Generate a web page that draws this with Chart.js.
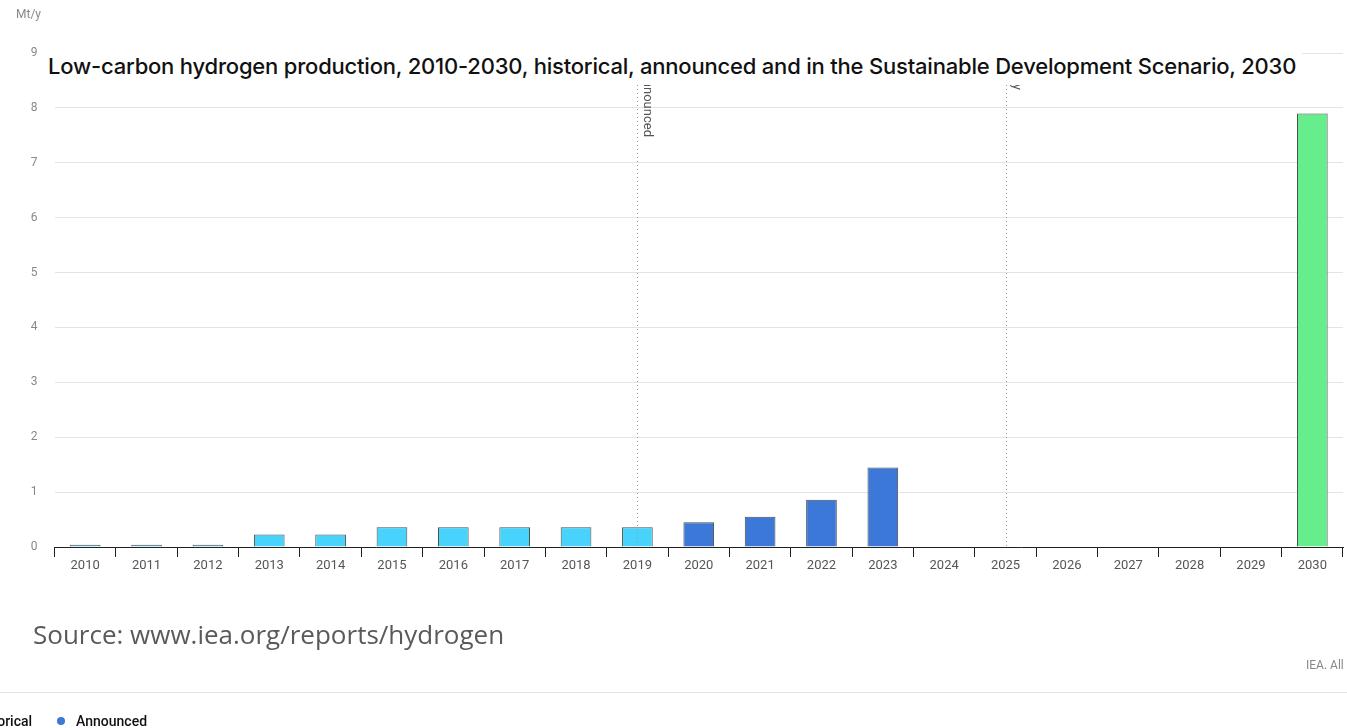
<!DOCTYPE html>
<html>
<head>
<meta charset="utf-8">
<script src="https://cdn.jsdelivr.net/npm/chart.js@4.4.1/dist/chart.umd.min.js"></script>
<style>
  html, body { margin: 0; padding: 0; background: #fff; overflow: hidden; }
  #wrap { position: relative; width: 1347px; height: 728px; }
  canvas { position: absolute; left: 0; top: 0; }
  .abs { position: absolute; white-space: nowrap; }
  #unit { left: 16px; top: 7px; font: 12px Roboto, "Liberation Sans", sans-serif; color: #888; }
  #title { left: 40px; top: 45px; width: 1262px; height: 40px; background: #fff; padding-left: 8px; box-sizing: border-box;
           font: 500 22px Inter, "Open Sans", sans-serif; color: #111; line-height: 42px; letter-spacing: -0.2px; }
  #source { left: 33px; top: 616px; font: 26px "Open Sans", sans-serif; color: #5a5a5a; }
  #iea { left: 1306px; top: 658px; font: 12px Roboto, sans-serif; color: #888; }
  #rule { left: 0; top: 692px; width: 1347px; height: 1px; background: #e4e4e4; }
  #legend { left: -47px; top: 713px; font: 500 14px Roboto, sans-serif; color: #111; }
  #legend span.dot { display: inline-block; width: 8px; height: 8px; border-radius: 50%; margin-right: 11px; vertical-align: 1px; }
  #legend span.item { margin-right: 25px; }
</style>
</head>
<body>
<div id="wrap">
  <canvas id="c" width="1347" height="728"></canvas>
  <div class="abs" id="unit">Mt/y</div>
  <div class="abs" id="title">Low-carbon hydrogen production, 2010-2030, historical, announced and in the Sustainable Development Scenario, 2030</div>
  <div class="abs" id="source">Source: www.iea.org/reports/hydrogen</div>
  <div class="abs" id="iea">IEA. All rights reserved.</div>
  <div class="abs" id="rule"></div>
  <div class="abs" id="legend"></div>
</div>
<script>
const years = ['2010','2011','2012','2013','2014','2015','2016','2017','2018','2019','2020','2021','2022','2023','2024','2025','2026','2027','2028','2029','2030'];
const historical = [0.04,0.04,0.04,0.23,0.23,0.36,0.36,0.36,0.36,0.36,null,null,null,null,null,null,null,null,null,null,null];
const announced  = [null,null,null,null,null,null,null,null,null,null,0.45,0.55,0.86,1.45,null,null,null,null,null,null,null];
const sds        = [null,null,null,null,null,null,null,null,null,null,null,null,null,null,null,null,null,null,null,null,7.9];
const seriesNames = ['Historical','Announced','Sustainable Development Scenario'];
const seriesColors = ['#47d3fc','#3c78d8','#66ee8c'];
const yTicks = [0,1,2,3,4,5,6,7,8,9];
const markers = [{year:'2019', label:'Announced', end: 137}, {year:'2025', label:'Policy', end: 90}];

// legend (HTML, shifted like the reference)
const leg = document.getElementById('legend');
seriesNames.slice(0,2).forEach((n,i)=>{
  const s = document.createElement('span'); s.className='item';
  s.innerHTML = '<span class="dot" style="background:'+seriesColors[i]+'"></span>'+n;
  leg.appendChild(s);
});

const markerPlugin = {
  id: 'markers',
  afterDatasetsDraw(chart) {
    const ctx = chart.ctx, xs = chart.scales.x, area = chart.chartArea;
    ctx.save();
    markers.forEach(m => {
      const x = Math.round(xs.getPixelForValue(years.indexOf(m.year))) + 0.5;
      ctx.strokeStyle = '#9a9a9a'; ctx.lineWidth = 1; ctx.setLineDash([1,3]);
      ctx.beginPath(); ctx.moveTo(x, area.top + 20); ctx.lineTo(x, area.bottom); ctx.stroke();
      ctx.setLineDash([]);
      ctx.save();
      ctx.translate(x + 3, m.end);
      ctx.rotate(Math.PI/2);
      ctx.fillStyle = '#555'; ctx.font = '13px Roboto, sans-serif';
      ctx.textAlign = 'right'; ctx.textBaseline = 'bottom';
      ctx.fillText(m.label, 0, 0);
      ctx.restore();
    });
    ctx.restore();
  }
};

new Chart(document.getElementById('c'), {
  type: 'bar',
  data: {
    labels: years,
    datasets: [historical, announced, sds].map((d,i)=>({
      label: seriesNames[i], data: d,
      backgroundColor: seriesColors[i], borderColor: '#4d4d4d', borderWidth: 1,
      barPercentage: 0.5, categoryPercentage: 1.0
    }))
  },
  options: {
    responsive: false, animation: false,
    layout: { padding: { top: 53, right: 4, left: 0, bottom: 0 } },
    plugins: { legend: { display: false }, tooltip: { enabled: false }, title: { display: false } },
    scales: {
      x: {
        stacked: true, offset: true,
        grid: { drawOnChartArea: false, drawTicks: true, tickLength: 10, color: '#222', offset: true },
        border: { display: true, color: '#222', width: 1 },
        ticks: { color: '#555', font: { size: 13, family: 'Roboto, sans-serif' }, padding: 1, maxRotation: 0, autoSkip: false },
        afterFit(s) { s.height = 181; }
      },
      y: {
        min: 0, max: 9,
        afterBuildTicks(s) { s.ticks = yTicks.map(v=>({value:v})); },
        grid: { drawTicks: false, color: '#e4e4e4' },
        border: { display: false },
        ticks: { color: '#888', font: { size: 12, family: 'Roboto, sans-serif' }, padding: 17 },
        afterFit(s) { s.width = 54.5; }
      }
    }
  },
  plugins: [markerPlugin]
});
</script>
</body>
</html>
